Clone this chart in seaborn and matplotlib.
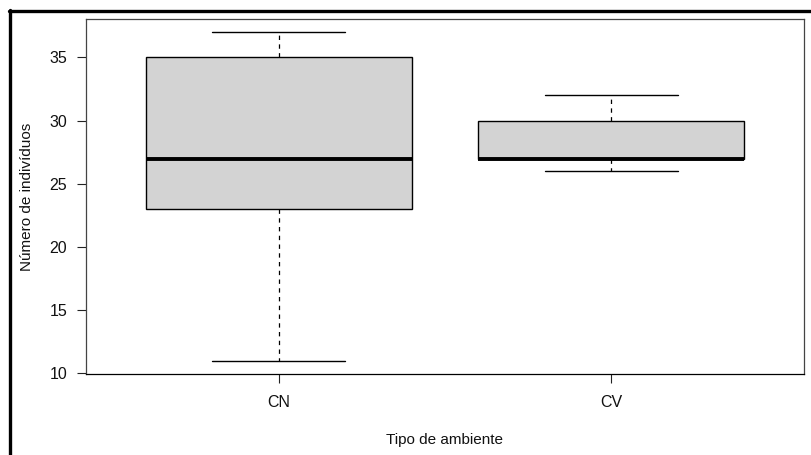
import matplotlib
matplotlib.use("Agg")
import matplotlib.pyplot as plt
import seaborn as sns
import pandas as pd
from matplotlib.lines import Line2D

cn_values = [11, 23, 27, 35, 37]
cv_values = [26, 27, 27, 30, 32]
categories = ["CN", "CV"]
y_ticks = [10, 15, 20, 25, 30, 35]

df = pd.DataFrame({
    "tipo": ["CN"] * len(cn_values) + ["CV"] * len(cv_values),
    "n": cn_values + cv_values,
})

sns.set_theme(style="white")
plt.rcParams["font.family"] = ["Liberation Sans", "DejaVu Sans"]

fig = plt.figure(figsize=(8.11, 4.55), dpi=100)
ax = fig.add_axes([86 / 811, 1 - 374 / 455, (804 - 86) / 811, (374 - 19) / 455])

sns.boxplot(
    data=df, x="tipo", y="n", order=categories, ax=ax,
    width=0.8, whis=1.5, color="#D3D3D3", fill=True,
    boxprops=dict(facecolor="#D3D3D3", edgecolor="black", linewidth=1.0),
    whiskerprops=dict(color="black", linewidth=0.9, linestyle=(0, (3.5, 3.5))),
    capprops=dict(color="black", linewidth=1.0),
    medianprops=dict(color="black", linewidth=2.8),
    flierprops=dict(marker="o", markerfacecolor="none", markeredgecolor="black"),
    linecolor="black",
)

ax.set_xlim(-0.58, 1.58)
ax.set_ylim(9.96, 38.04)
ax.set_yticks(y_ticks)
ax.set_yticklabels([str(t) for t in y_ticks])

ax.set_xlabel("Tipo de ambiente", fontsize=11, color="#111111", labelpad=17)
ax.set_ylabel("Número de indivíduos", fontsize=11, color="#111111", labelpad=11)

ax.tick_params(axis="both", which="both", direction="out", length=6.5, width=0.8,
               color="#222222", labelsize=11.5, labelcolor="#111111", pad=7,
               left=True, bottom=True)
ax.tick_params(axis="x", pad=8.5)

for name, sp in ax.spines.items():
    sp.set_visible(True)
    sp.set_color("#444444")
    sp.set_linewidth(0.9)
ax.spines["bottom"].set_color("black")
ax.grid(False)

# Outer screenshot frame (left and top edges)
fig.add_artist(Line2D([9.5 / 811, 9.5 / 811], [0, 1 - 10 / 455],
                      transform=fig.transFigure, color="black", linewidth=2.4))
fig.add_artist(Line2D([8.5 / 811, 1], [1 - 11 / 455, 1 - 11 / 455],
                      transform=fig.transFigure, color="black", linewidth=2.4))

fig.savefig("out.png", dpi=100, facecolor="white")
